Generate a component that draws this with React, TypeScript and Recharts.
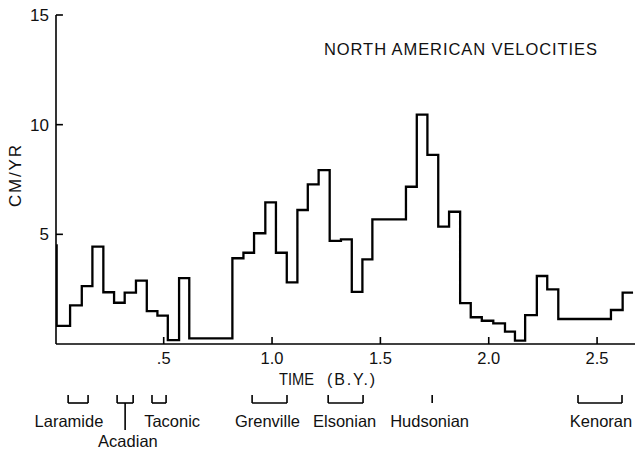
import React from 'react';
import {
  LineChart,
  Line,
  XAxis,
  YAxis,
  ReferenceLine,
  ReferenceDot,
  Customized,
} from 'recharts';

// Step boundaries (time in billions of years) and velocity (cm/yr) for each step
const stepStarts = [
  0.004, 0.006, 0.068, 0.122, 0.171, 0.2215, 0.271, 0.32, 0.372, 0.422, 0.471,
  0.519, 0.571, 0.618, 0.817, 0.868, 0.917, 0.969, 1.018, 1.068, 1.117, 1.165,
  1.215, 1.266, 1.318, 1.368, 1.417, 1.463, 1.618, 1.668, 1.717, 1.767, 1.817,
  1.868, 1.917, 1.968, 2.021, 2.075, 2.121, 2.168, 2.222, 2.27, 2.321, 2.564,
  2.618, 2.666,
];
const stepValues = [
  4.5, 0.83, 1.76, 2.64, 4.44, 2.36, 1.88, 2.34, 2.89, 1.5, 1.29,
  0.18, 3.0, 0.26, 3.91, 4.16, 5.05, 6.46, 4.16, 2.81, 6.11, 7.28,
  7.93, 4.7, 4.77, 2.38, 3.86, 5.68, 7.17, 10.46, 8.62, 5.35, 6.03,
  1.86, 1.22, 1.06, 0.94, 0.56, 0.15, 1.32, 3.1, 2.49, 1.14, 1.55,
  2.34, 2.34,
];

const xTicks = [0.5, 1.0, 1.5, 2.0, 2.5];
const yTicks = [5, 10, 15];
const xDomain: [number, number] = [0.003, 2.675];
const yDomain: [number, number] = [0, 15];

// Orogenies (time intervals in B.Y.)
const orogenyNames = ['Laramide', 'Acadian', 'Taconic', 'Grenville', 'Elsonian', 'Hudsonian', 'Kenoran'];
const orogenyStarts = [0.059, 0.285, 0.446, 0.908, 1.259, 1.739, 2.412];
const orogenyEnds = [0.151, 0.359, 0.511, 1.069, 1.42, 1.739, 2.615];
const orogenyLabelTimes = [0.063, 0.335, 0.539, 0.979, 1.335, 1.727, 2.518];
const orogenyLabelRows = [0, 1, 0, 0, 0, 0, 0];
const acadianStem = 0.322;

const data = stepStarts.map((t, i) => ({ t, v: stepValues[i] }));

const FONT = "'Liberation Sans', Arial, sans-serif";
const INK = '#111';

// vertical placement of annotation rows below the axis (in velocity units)
const BRACKET_TOP = -2.33;
const BRACKET_BOTTOM = -2.69;
const STEM_BOTTOM = -3.92;
const LABEL_ROWS = [-3.51, -4.42];
const X_TICK_LEN = 0.32;
const Y_TICK_LEN = 0.032;

const fmtX = (v: number) => (v === 0.5 ? '.5' : v.toFixed(1));

const Titles = () => (
  <g fontFamily={FONT} fill={INK}>
    <text x={324} y={55} fontSize={16.5} textLength={273} lengthAdjust="spacing">
      NORTH AMERICAN VELOCITIES
    </text>
    <text x={279} y={385} fontSize={16} textLength={35} lengthAdjust="spacingAndGlyphs">
      TIME
    </text>
    <text x={327} y={385} fontSize={16} textLength={48} lengthAdjust="spacing">
      (B.Y.)
    </text>
    <text
      x={21}
      y={176}
      fontSize={17}
      textAnchor="middle"
      textLength={62}
      lengthAdjust="spacing"
      transform="rotate(-90 21 176)"
    >
      CM/YR
    </text>
  </g>
);

export default function App() {
  const seg = { stroke: '#000', strokeWidth: 1.6, ifOverflow: 'visible' as const };
  return (
    <div style={{ position: 'absolute', left: 0, top: 0, width: 635, height: 449, background: '#fff' }}>
      <LineChart width={635} height={449} data={data} margin={{ top: 15, right: 0, left: 0, bottom: 0 }}>
        <XAxis
          type="number"
          dataKey="t"
          domain={xDomain}
          ticks={xTicks}
          allowDataOverflow
          tickFormatter={fmtX}
          tickLine={false}
          tickSize={6}
          tickMargin={2}
          height={105}
          axisLine={{ stroke: '#000', strokeWidth: 1.6 }}
          tick={{ fill: INK, fontSize: 16.5, fontFamily: FONT }}
          interval={0}
        />
        <YAxis
          type="number"
          domain={yDomain}
          ticks={yTicks}
          allowDataOverflow
          tickLine={false}
          tickSize={6}
          tickMargin={1}
          width={56}
          axisLine={{ stroke: '#000', strokeWidth: 1.6 }}
          tick={{ fill: INK, fontSize: 17, fontFamily: FONT }}
          interval={0}
        />
        {xTicks.map((t) => (
          <ReferenceLine key={'xt' + t} segment={[{ x: t, y: 0 }, { x: t, y: X_TICK_LEN }]} {...seg} />
        ))}
        {yTicks.map((v) => (
          <ReferenceLine
            key={'yt' + v}
            segment={[{ x: xDomain[0], y: v }, { x: xDomain[0] + Y_TICK_LEN, y: v }]}
            {...seg}
          />
        ))}
        {orogenyNames.map((name, i) => {
          const a = orogenyStarts[i];
          const b = orogenyEnds[i];
          if (a === b) {
            return (
              <ReferenceLine
                key={'ob' + name}
                segment={[{ x: a, y: BRACKET_TOP }, { x: a, y: BRACKET_BOTTOM }]}
                {...seg}
              />
            );
          }
          return (
            <React.Fragment key={'ob' + name}>
              <ReferenceLine segment={[{ x: a, y: BRACKET_TOP }, { x: a, y: BRACKET_BOTTOM }]} {...seg} />
              <ReferenceLine segment={[{ x: a, y: BRACKET_BOTTOM }, { x: b, y: BRACKET_BOTTOM }]} {...seg} />
              <ReferenceLine segment={[{ x: b, y: BRACKET_BOTTOM }, { x: b, y: BRACKET_TOP }]} {...seg} />
            </React.Fragment>
          );
        })}
        <ReferenceLine
          segment={[{ x: acadianStem, y: BRACKET_BOTTOM }, { x: acadianStem, y: STEM_BOTTOM }]}
          {...seg}
        />
        {orogenyNames.map((name, i) => (
          <ReferenceDot
            key={'ol' + name}
            x={orogenyLabelTimes[i]}
            y={LABEL_ROWS[orogenyLabelRows[i]]}
            r={0}
            stroke="none"
            fill="none"
            ifOverflow="visible"
            label={{ value: name, position: 'center', fill: INK, fontSize: 16.5, fontFamily: FONT }}
          />
        ))}
        <Line
          type="stepAfter"
          dataKey="v"
          stroke="#000"
          strokeWidth={2.3}
          dot={false}
          activeDot={false}
          isAnimationActive={false}
        />
        <Customized component={Titles} />
      </LineChart>
    </div>
  );
}
